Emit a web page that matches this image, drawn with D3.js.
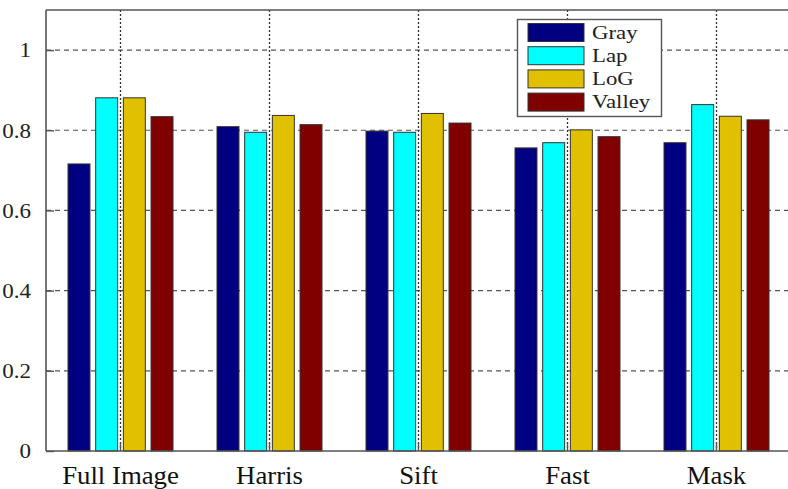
<!DOCTYPE html>
<html><head><meta charset="utf-8">
<script src="https://cdn.jsdelivr.net/npm/d3@7"></script>
<style>body{margin:0;background:#fff}svg{display:block}</style>
</head><body>
<svg id="c" width="788" height="489"></svg>
<script>
const categories = ["Full Image", "Harris", "Sift", "Fast", "Mask"];
const seriesNames = ["Gray", "Lap", "LoG", "Valley"];
const seriesColors = ["#000080", "#00ffff", "#e0c000", "#800000"];
const grayValues   = [0.716, 0.809, 0.798, 0.756, 0.769];
const lapValues    = [0.881, 0.795, 0.795, 0.769, 0.864];
const logValues    = [0.881, 0.837, 0.842, 0.801, 0.835];
const valleyValues = [0.834, 0.814, 0.818, 0.784, 0.826];
const yTicks = [0, 0.2, 0.4, 0.6, 0.8, 1];
const yTickLabels = ["0", "0.2", "0.4", "0.6", "0.8", "1"];

const seriesValues = [grayValues, lapValues, logValues, valleyValues];
const svg = d3.select("#c");
const L = 46, R = 791, T = 10, B = 451;
const x = d3.scaleBand().domain(categories).range([L, R]).padding(0);
const groupW = 105;
const xs = d3.scaleBand().domain(seriesNames).range([0, groupW]).paddingInner(0.206).paddingOuter(0);
const y = d3.scaleLinear().domain([0, 1.1]).range([B, T]);

function stretch(sel, k){
  sel.each(function(){ const w = this.getComputedTextLength(); d3.select(this).attr("textLength", w*k).attr("lengthAdjust","spacingAndGlyphs"); });
}

// horizontal grid
svg.append("g").selectAll("line").data(yTicks.filter(d => d > 0)).join("line")
  .attr("x1", L).attr("x2", R).attr("y1", d => y(d)).attr("y2", d => y(d))
  .attr("stroke", "#555").attr("stroke-width", 1.2).attr("stroke-dasharray", "5,4");
// vertical grid
svg.append("g").selectAll("line").data(categories).join("line")
  .attr("x1", d => x(d) + x.bandwidth()/2).attr("x2", d => x(d) + x.bandwidth()/2)
  .attr("y1", T).attr("y2", B)
  .attr("stroke", "#333").attr("stroke-width", 1.3).attr("stroke-dasharray", "2,2");

// bars
const groups = svg.append("g").selectAll("g").data(categories).join("g")
  .attr("transform", d => `translate(${x(d) + (x.bandwidth() - groupW)/2},0)`);
groups.selectAll("rect").data((d, i) => seriesNames.map((s, j) => ({s, j, v: seriesValues[j][i]}))).join("rect")
  .attr("x", d => xs(d.s)).attr("width", xs.bandwidth())
  .attr("y", d => y(d.v)).attr("height", d => y(0) - y(d.v))
  .attr("fill", d => seriesColors[d.j]).attr("stroke", "#333").attr("stroke-width", 1);

// axes frame
svg.append("line").attr("x1", L).attr("x2", L).attr("y1", T).attr("y2", B).attr("stroke", "#555").attr("stroke-width", 1.6);
svg.append("line").attr("x1", L).attr("x2", 788).attr("y1", B).attr("y2", B).attr("stroke", "#555").attr("stroke-width", 1.6);
svg.append("line").attr("x1", L).attr("x2", 788).attr("y1", T).attr("y2", T).attr("stroke", "#555").attr("stroke-width", 1.6);

// y axis via d3
const yAxis = d3.axisLeft(y).tickValues(yTicks).tickFormat((d, i) => yTickLabels[i]).tickSizeInner(-8).tickSizeOuter(0).tickPadding(15);
const ya = svg.append("g").attr("transform", `translate(${L},0)`).call(yAxis);
ya.select(".domain").remove();
ya.selectAll(".tick line").attr("stroke", "#555").attr("stroke-width", 1.4);
ya.selectAll(".tick text").attr("font-family", "Liberation Serif, Times New Roman, serif").attr("font-size", 20)
  .attr("fill", "#222").attr("dy", "0.34em").call(stretch, 1.15);

// x axis via d3
const xAxis = d3.axisBottom(x).tickSizeInner(-8).tickSizeOuter(0).tickPadding(0);
const xa = svg.append("g").attr("transform", `translate(0,${B})`).call(xAxis);
xa.select(".domain").remove();
xa.selectAll(".tick line").attr("stroke", "#555").attr("stroke-width", 1.4);
xa.selectAll(".tick text").attr("font-family", "Liberation Serif, Times New Roman, serif").attr("font-size", 26)
  .attr("fill", "#111").attr("dy", null).attr("y", 33).call(stretch, 1.03);

// legend
const lg = svg.append("g");
lg.append("rect").attr("x", 517.5).attr("y", 19.5).attr("width", 144).attr("height", 97)
  .attr("fill", "#fff").attr("stroke", "#555").attr("stroke-width", 1.4);
const li = lg.selectAll("g.it").data(seriesNames).join("g").attr("class", "it")
  .attr("transform", (d, i) => `translate(528,${23.5 + i*23.2})`);
li.append("rect").attr("width", 56).attr("height", 18)
  .attr("fill", (d, i) => seriesColors[i]).attr("stroke", "#333").attr("stroke-width", 1);
li.append("text").attr("x", 64).attr("y", 15).text(d => d)
  .attr("font-family", "Liberation Serif, Times New Roman, serif").attr("font-size", 19).attr("fill", "#222")
  .call(stretch, 1.2);
</script>
</body></html>
